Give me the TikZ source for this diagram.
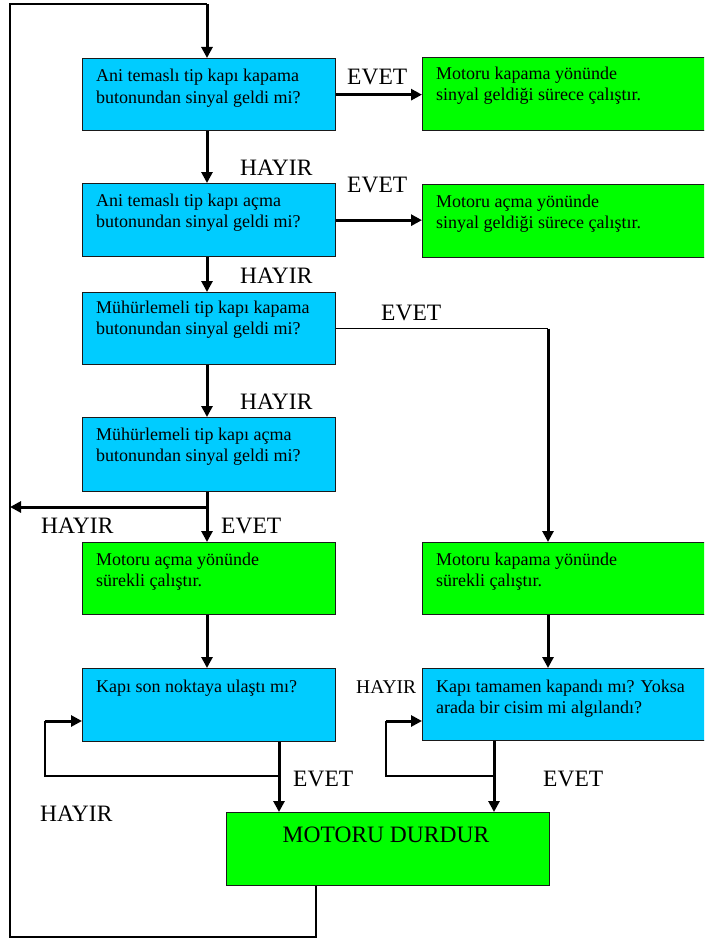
\documentclass[tikz,border=0pt]{standalone}
\usepackage{fontspec}
\setmainfont{Liberation Serif}
\usetikzlibrary{arrows.meta}

\definecolor{qcyan}{HTML}{00CCFF}
\definecolor{agreen}{HTML}{00FF00}
\definecolor{edge}{HTML}{1A1A1A}

\newcommand{\boxfont}{\fontsize{18pt}{21pt}\selectfont}
\newcommand{\lblfont}{\fontsize{23.5pt}{26pt}\selectfont}
\newcommand{\smalllblfont}{\fontsize{19.5pt}{22pt}\selectfont}
\newcommand{\stopfont}{\fontsize{23.5pt}{26pt}\selectfont}
% two-line box text whose first baseline sits on the node's base
\newcommand{\bxt}[1]{\parbox[t]{300pt}{\raggedright #1}}

\begin{document}
\begin{tikzpicture}[x=1pt,y=-1pt,
  qbox/.style={draw=edge, line width=1.3pt, fill=qcyan, inner sep=0pt, anchor=north west},
  abox/.style={draw=edge, line width=1.3pt, fill=agreen, inner sep=0pt, anchor=north west},
  txt/.style={anchor=base west, inner sep=0pt, font=\boxfont},
  lbl/.style={anchor=base west, inner sep=0pt, font=\lblfont},
  flow/.style={line width=3pt},
  link/.style={line width=1.6pt},
  tip/.style={-{Triangle[width=11pt,length=11pt]}}]

\useasboundingbox (0,0) rectangle (704,939);
\clip (0,0) rectangle (704,939);

% decision and action boxes
\node[qbox, minimum width=253pt, minimum height=72pt] (q1) at (82,58) {};
\node[qbox, minimum width=253pt, minimum height=73pt] (q2) at (82,183) {};
\node[qbox, minimum width=253pt, minimum height=72pt] (q3) at (82,292) {};
\node[qbox, minimum width=253pt, minimum height=74pt] (q4) at (82,417) {};
\node[abox, minimum width=253pt, minimum height=72pt] (g1) at (82,542) {};
\node[qbox, minimum width=253pt, minimum height=73pt] (q5) at (82,668) {};
\node[abox, minimum width=292pt, minimum height=73pt] (a1) at (422,57) {};
\node[abox, minimum width=292pt, minimum height=73pt] (a2) at (422,184) {};
\node[abox, minimum width=292pt, minimum height=72pt] (a3) at (422,542) {};
\node[qbox, minimum width=292pt, minimum height=72pt] (q6) at (422,668) {};
\node[abox, minimum width=323pt, minimum height=73pt] (stop) at (226,812) {};

% box texts
\node[txt] (t1) at (96,82) {\bxt{Ani temaslı tip kapı kapama\\butonundan sinyal geldi mi?}};
\node[txt] (t2) at (96,206) {\bxt{Ani temaslı tip kapı açma\\butonundan sinyal geldi mi?}};
\node[txt] (t3) at (96,313) {\bxt{Mühürlemeli tip kapı kapama\\butonundan sinyal geldi mi?}};
\node[txt] (t4) at (96,440) {\bxt{Mühürlemeli tip kapı açma\\butonundan sinyal geldi mi?}};
\node[txt] (t5) at (96,565) {\bxt{Motoru açma yönünde\\sürekli çalıştır.}};
\node[txt] (t6) at (96,692) {Kapı son noktaya ulaştı mı?};
\node[txt] (ta1) at (436,80) {\bxt{Motoru kapama yönünde\\sinyal geldiği sürece çalıştır.}};
\node[txt] (ta2) at (436,207) {\bxt{Motoru açma yönünde\\sinyal geldiği sürece çalıştır.}};
\node[txt] (ta3) at (436,565) {\bxt{Motoru kapama yönünde\\sürekli çalıştır.}};
\node[txt] (tq6) at (436,692) {\bxt{Kapı tamamen kapandı mı? Yoksa\\arada bir cisim mi algılandı?}};
\node[anchor=base, inner sep=0pt, font=\stopfont] (tstop) at (386,842) {MOTORU DURDUR};

% branch labels
\node[lbl] (e1) at (347,85) {EVET};
\node[lbl] (e2) at (347,192) {EVET};
\node[lbl] (e3) at (381,320) {EVET};
\node[lbl] (e4) at (221,533) {EVET};
\node[lbl] (e5) at (293,786) {EVET};
\node[lbl] (e6) at (543,786) {EVET};
\node[lbl] (h1) at (240,175) {HAYIR};
\node[lbl] (h2) at (240,283) {HAYIR};
\node[lbl] (h3) at (240,409) {HAYIR};
\node[lbl] (h4) at (41,533) {HAYIR};
\node[lbl] (h5) at (40,821) {HAYIR};
\node[lbl, font=\smalllblfont] (h6) at (356,693) {HAYIR};

% routing points
\coordinate (c) at (207,0);
\coordinate (rc) at (548,0);
\coordinate (lc) at (279,0);
\coordinate (rc2) at (494,0);
\coordinate (top) at (207,4);
\coordinate (lt) at (10,4);
\coordinate (lb) at (10,937);
\coordinate (sb) at (316,937);
\coordinate (j) at (207,507);
\coordinate (l1) at (45,776);
\coordinate (l2) at (45,721);
\coordinate (r1) at (386,776);
\coordinate (r2) at (386,721);

% return loop from the stop box to the start
\draw[link] (stop.south -| sb) -- (sb) -- (lb) -- (lt) -- (top);
\draw[flow,tip] (top) -- (top |- q1.north);

% main column
\draw[flow,tip] (q1.south -| c) -- (q2.north -| c);
\draw[flow,tip] (q2.south -| c) -- (q3.north -| c);
\draw[flow,tip] (q3.south -| c) -- (q4.north -| c);
\draw[flow,tip] (q4.south -| c) -- (g1.north -| c);
\draw[flow,tip] (j) -- (lt |- j);
\draw[flow,tip] (g1.south -| c) -- (q5.north -| c);

% yes branches to the right
\draw[flow,tip] (q1.east) -- (q1.east -| a1.west);
\draw[flow,tip] (q2.east) -- (q2.east -| a2.west);
\draw[link] (q3.east) -- (q3.east -| rc);
\draw[flow,tip] (q3.east -| rc) -- (rc |- a3.north);
\draw[flow,tip] (a3.south -| rc) -- (q6.north -| rc);

% end-point checks into the stop box
\draw[flow,tip] (q5.south -| lc) -- (stop.north -| lc);
\draw[link] (lc |- l1) -- (l1) -- (l2);
\draw[flow,tip] (l2) -- (q5.west |- l2);
\draw[flow,tip] (q6.south -| rc2) -- (stop.north -| rc2);
\draw[link] (rc2 |- r1) -- (r1) -- (r2);
\draw[flow,tip] (r2) -- (q6.west |- r2);
\end{tikzpicture}
\end{document}
